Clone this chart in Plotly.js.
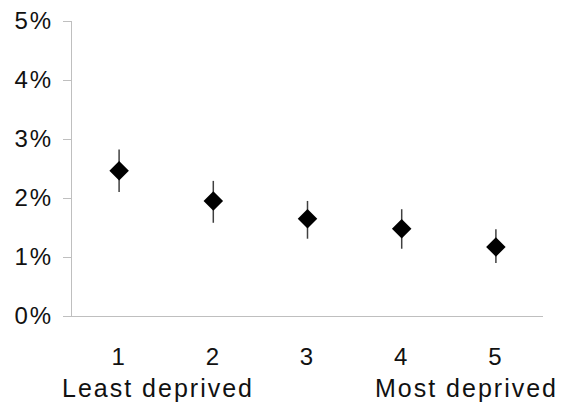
<!DOCTYPE html>
<html>
<head>
<meta charset="utf-8">
<script src="https://cdn.plot.ly/plotly-3.0.1.min.js"></script>
<style>
  html, body { margin: 0; padding: 0; background: #fff; }
  #chart { width: 565px; height: 404px; }
  #chart svg text { letter-spacing: 2px; }
</style>
</head>
<body>
<div id="chart"></div>
<script>
// Deprivation quintile (1 = least deprived, 5 = most deprived)
const quintiles = [1, 2, 3, 4, 5];
const quintileLabels = ['1', '2', '3', '4', '5'];
// Estimated proportion with 95% confidence limits
const estimate = [0.0246, 0.0195, 0.0165, 0.0148, 0.0117];
const ciUpper  = [0.0282, 0.0229, 0.0195, 0.0181, 0.0147];
const ciLower  = [0.0210, 0.0158, 0.0131, 0.0114, 0.0090];

const errPlus = estimate.map((v, i) => ciUpper[i] - v);
const errMinus = estimate.map((v, i) => v - ciLower[i]);

const FONT = 'Liberation Sans, Arial, sans-serif';
const AXIS_GREY = '#bfbfbf';
const TEXT = '#111111';

const trace = {
  type: 'scatter',
  mode: 'markers',
  x: quintiles,
  y: estimate,
  marker: { symbol: 'diamond', size: 15, color: '#000000' },
  error_y: {
    type: 'data',
    symmetric: false,
    array: errPlus,
    arrayminus: errMinus,
    color: '#404040',
    thickness: 1.5,
    width: 0
  },
  hoverinfo: 'skip'
};

const layout = {
  width: 565,
  height: 404,
  margin: { l: 72, r: 22, t: 21, b: 88 },
  paper_bgcolor: '#ffffff',
  plot_bgcolor: '#ffffff',
  showlegend: false,
  font: { family: FONT, size: 24, color: TEXT },
  xaxis: {
    range: [0.5, 5.5],
    tickvals: quintiles,
    ticktext: quintileLabels,
    showline: true,
    linecolor: AXIS_GREY,
    linewidth: 1,
    ticks: '',
    ticklabelstandoff: 19,
    showgrid: false,
    zeroline: false,
    fixedrange: true,
    tickfont: { family: FONT, size: 24, color: TEXT }
  },
  yaxis: {
    range: [0, 0.05],
    dtick: 0.01,
    tick0: 0,
    tickformat: '.0%',
    showline: true,
    linecolor: AXIS_GREY,
    linewidth: 1,
    ticks: 'outside',
    ticklen: 8,
    tickcolor: AXIS_GREY,
    tickwidth: 1,
    ticklabelstandoff: 5,
    showgrid: false,
    zeroline: false,
    fixedrange: true,
    tickfont: { family: FONT, size: 24, color: TEXT }
  },
  annotations: [
    {
      text: 'Least deprived',
      xref: 'paper', yref: 'paper',
      x: 0.1826, y: -0.245,
      xanchor: 'center', yanchor: 'middle',
      showarrow: false,
      font: { family: FONT, size: 25, color: TEXT }
    },
    {
      text: 'Most deprived',
      xref: 'paper', yref: 'paper',
      x: 0.8386, y: -0.245,
      xanchor: 'center', yanchor: 'middle',
      showarrow: false,
      font: { family: FONT, size: 25, color: TEXT }
    }
  ]
};

Plotly.newPlot('chart', [trace], layout, { displayModeBar: false, staticPlot: true });
</script>
</body>
</html>
